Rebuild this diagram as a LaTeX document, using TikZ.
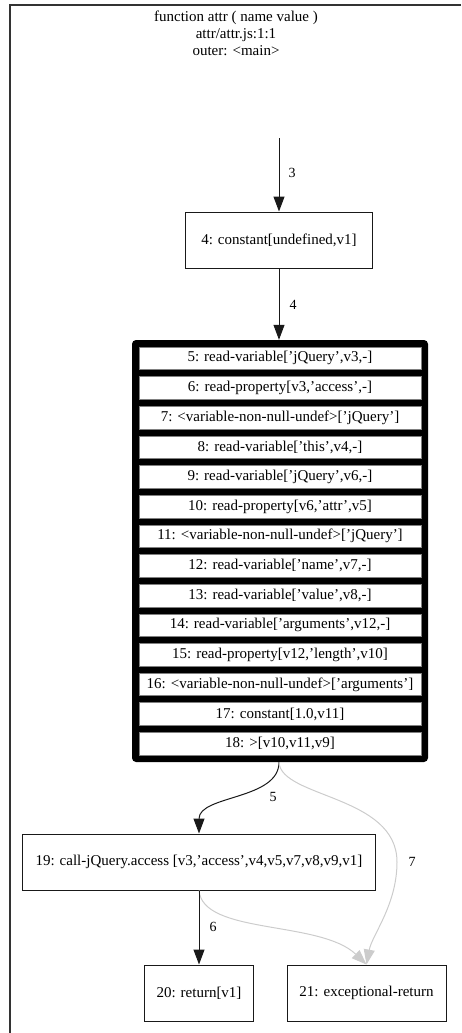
\documentclass[tikz,border=0pt]{standalone}
\usepackage{fontspec}
\setmainfont{Liberation Serif}
\usetikzlibrary{arrows.meta}

\tikzset{
  op/.style={draw=black!90, line width=1pt, fill=white, minimum height=56pt, inner sep=0pt, font=\fontsize{15}{17}\selectfont},
  instr/.style={fill=white, draw=black!50, line width=0.4pt, minimum width=282pt, minimum height=22.6pt, inner sep=0pt, font=\fontsize{15}{17}\selectfont},
  flow/.style={line width=1pt, black!90, -{Triangle[length=15pt,width=11pt]}},
  exc/.style={line width=1pt, black!20, -{Triangle[length=15pt,width=11pt]}},
  lbl/.style={font=\fontsize{14}{16}\selectfont, inner sep=0pt}
}

\begin{document}
\begin{tikzpicture}[x=1pt, y=-1pt]
\useasboundingbox (0,0) rectangle (461,1033);

% Frame
\draw[black!80, line width=1.5pt] (461,5) -- (10,5) -- (10,1033);

% Title
\node[align=center, font=\fontsize{15}{17}\selectfont] (title) at (236,33)
  {function attr ( name value )\\attr/attr.js:1:1\\outer: <main>};

% Entry
\coordinate (entry) at (279,138);
\node[op, minimum width=187pt] (n4) at (279,240) {4: constant[undefined,v1]};
\draw[flow] (entry) -- (n4.north);
\node[lbl] (l3) at (292,173) {3};

% Block
\node[fill=black, rounded corners=4pt, minimum width=296pt, minimum height=422pt] (block) at (280,551) {};
\foreach \t [count=\k from 0] in {
  {5: read-variable['jQuery',v3,-]},
  {6: read-property[v3,'access',-]},
  {7: <variable-non-null-undef>['jQuery']},
  {8: read-variable['this',v4,-]},
  {9: read-variable['jQuery',v6,-]},
  {10: read-property[v6,'attr',v5]},
  {11: <variable-non-null-undef>['jQuery']},
  {12: read-variable['name',v7,-]},
  {13: read-variable['value',v8,-]},
  {14: read-variable['arguments',v12,-]},
  {15: read-property[v12,'length',v10]},
  {16: <variable-non-null-undef>['arguments']},
  {17: constant[1.0,v11]},
  {18: >[v10,v11,v9]}}
{
\node[instr] (row\k) at (280,358.3+29.64*\k) {\t};
}
\draw[flow] (n4.south) -- (n4.south |- block.north);
\node[lbl] (l4) at (293,305) {4};

% Call
\node[op, minimum width=353pt] (n19) at (199,862) {19: call-jQuery.access [v3,'access',v4,v5,v7,v8,v9,v1]};
\coordinate (out) at (n4.south |- block.south);
\draw[flow] (out) .. controls (279,800) and (199,795) .. (n19.north);
\node[lbl] (l5) at (273,797) {5};

% Exits
\node[op, minimum width=109pt] (n20) at (199,993) {20: return[v1]};
\node[op, minimum width=159pt] (n21) at (366.5,993) {21: exceptional-return};
\draw[exc] (out) .. controls (281,798) and (397,795) .. (397,862)
  .. controls (397,905) and (372,935) .. (n21.north);
\draw[exc] (n19.south) .. controls (203,935) and (320,920) .. (n21.north);
\draw[flow] (n19.south) -- (n20.north);
\node[lbl] (l6) at (213,927) {6};
\node[lbl] (l7) at (412,862) {7};

\end{tikzpicture}
\end{document}
